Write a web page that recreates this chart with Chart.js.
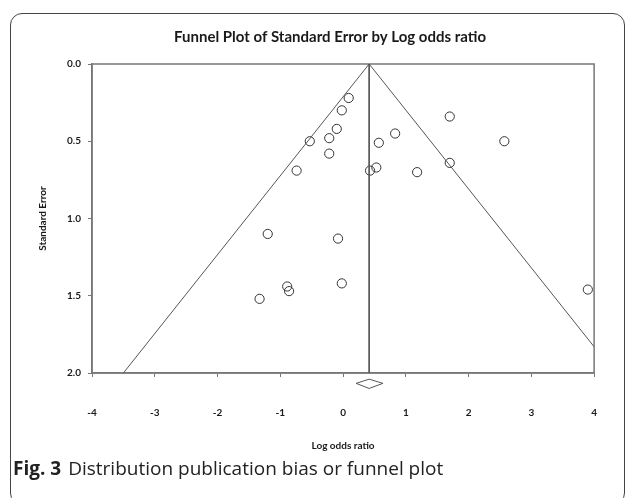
<!DOCTYPE html>
<html>
<head>
<meta charset="utf-8">
<script src="https://cdn.jsdelivr.net/npm/chart.js@4.4.0/dist/chart.umd.min.js"></script>
<style>
  body { margin: 0; background: #fff; }
  #wrap { position: relative; width: 627px; height: 498px; overflow: hidden; }
  #box { position: absolute; left: 10px; top: 13px; width: 615px; height: 492px; border: 1px solid #444; border-radius: 12px; box-sizing: border-box; }
  #grafic { position: absolute; left: 0; top: 0; }
  #peu { position: absolute; left: 13px; top: 455px; font-family: "Open Sans", sans-serif; font-size: 19px; color: #222; white-space: nowrap; }
  #peu b { font-weight: 700; margin-right: 7px; }
</style>
</head>
<body>
<div id="wrap">
  <div id="box"></div>
  <canvas id="grafic" width="627" height="460"></canvas>
  <div id="peu"><b>Fig. 3</b>Distribution publication bias or funnel plot</div>
</div>
<script>
// DADES (llegides de la imatge)
const logOdds = [0.09, -0.02, -0.10, -0.22, -0.53, -0.22, -0.74, 0.43, -1.20, -0.08, -0.89, -0.86, -1.33, -0.02,
                 0.57, 0.83, 0.53, 1.18, 1.70, 1.70, 2.57, 3.90];
const stdErr = [0.22, 0.30, 0.42, 0.48, 0.50, 0.58, 0.69, 0.69, 1.10, 1.13, 1.44, 1.47, 1.52, 1.42,
                0.51, 0.45, 0.67, 0.70, 0.34, 0.64, 0.50, 1.46];
const efecteGlobal = 0.416; // log odds ratio combinat
const limitEsq = [{ x: 0.416, y: 0 }, { x: -3.50, y: 2.0 }];
const limitDret = [{ x: 0.416, y: 0 }, { x: 4.0, y: 1.83 }];
const liniaCentre = [{ x: 0.416, y: 0 }, { x: 0.416, y: 2.0 }];
const diamant = [{ x: 0.208, y: 2.067 }, { x: 0.416, y: 2.040 }, { x: 0.635, y: 2.067 }, { x: 0.416, y: 2.100 }, { x: 0.208, y: 2.067 }];
const ticksX = [-4, -3, -2, -1, 0, 1, 2, 3, 4];
const ticksY = [0, 0.5, 1.0, 1.5, 2.0];

const punts = logOdds.map((v, i) => ({ x: v, y: stdErr[i] }));
const fontEix = { family: "Lato, sans-serif", size: 10, weight: "bold" };

// marc de l'area del grafic + titol
const marcPlugin = {
  id: "marc",
  beforeDatasetsDraw(chart) {
    const a = chart.chartArea;
    const ctx = chart.ctx;
    ctx.save();
    ctx.strokeStyle = "#777";
    ctx.lineWidth = 1.5;
    ctx.strokeRect(a.left, a.top, a.right - a.left, a.bottom - a.top);
    ctx.restore();
  },
  afterDraw(chart) {
    const a = chart.chartArea;
    const ctx = chart.ctx;
    ctx.save();
    ctx.fillStyle = "#1a1a1a";
    ctx.font = "bold 15px Lato, sans-serif";
    ctx.textAlign = "center";
    ctx.textBaseline = "middle";
    ctx.fillText("Funnel Plot of Standard Error by Log odds ratio", (a.left + a.right) / 2 - 13, 37);
    ctx.restore();
  }
};

const liniaBase = { type: "scatter", showLine: true, pointRadius: 0, borderColor: "#555", borderWidth: 1, fill: false };

new Chart(document.getElementById("grafic"), {
  type: "scatter",
  data: {
    datasets: [
      Object.assign({ data: limitEsq }, liniaBase),
      Object.assign({ data: limitDret }, liniaBase),
      Object.assign({ data: liniaCentre }, liniaBase),
      Object.assign({ data: diamant, clip: false }, liniaBase),
      {
        data: punts,
        pointRadius: 4.6,
        pointBorderWidth: 1,
        pointBorderColor: "#333",
        pointBackgroundColor: "rgba(255,255,255,0)",
        showLine: false
      }
    ]
  },
  options: {
    responsive: false,
    animation: false,
    events: [],
    layout: { padding: { top: 64, right: 25, bottom: 0, left: 0 } },
    plugins: { legend: { display: false }, tooltip: { enabled: false }, title: { display: false } },
    scales: {
      x: {
        type: "linear",
        min: -4, max: 4,
        afterBuildTicks: (s) => { s.ticks = ticksX.map((v) => ({ value: v })); },
        afterFit: (s) => { s.height = 87; },
        ticks: { font: fontEix, color: "#1a1a1a", padding: 30, callback: (v) => v },
        grid: { drawOnChartArea: false, drawTicks: true, tickLength: 4, color: "#777" },
        border: { display: true, color: "#777", width: 1.5 },
        title: { display: true, text: "Log odds ratio", font: { family: "Lato, sans-serif", size: 10, weight: "bold" }, color: "#1a1a1a", padding: { top: 0, bottom: 8 } }
      },
      y: {
        type: "linear",
        reverse: true,
        min: 0, max: 2,
        afterBuildTicks: (s) => { s.ticks = ticksY.map((v) => ({ value: v })); },
        afterFit: (s) => { s.width = 92; },
        ticks: { font: fontEix, color: "#1a1a1a", padding: 7, callback: (v) => Number(v).toFixed(1) },
        grid: { drawOnChartArea: false, drawTicks: true, tickLength: 4, color: "#777" },
        border: { display: true, color: "#777", width: 1.5 },
        title: { display: true, text: "Standard Error", font: { family: "Lato, sans-serif", size: 10, weight: "bold" }, color: "#1a1a1a", padding: { top: 37, bottom: 0 } }
      }
    }
  },
  plugins: [marcPlugin]
});
</script>
</body>
</html>
